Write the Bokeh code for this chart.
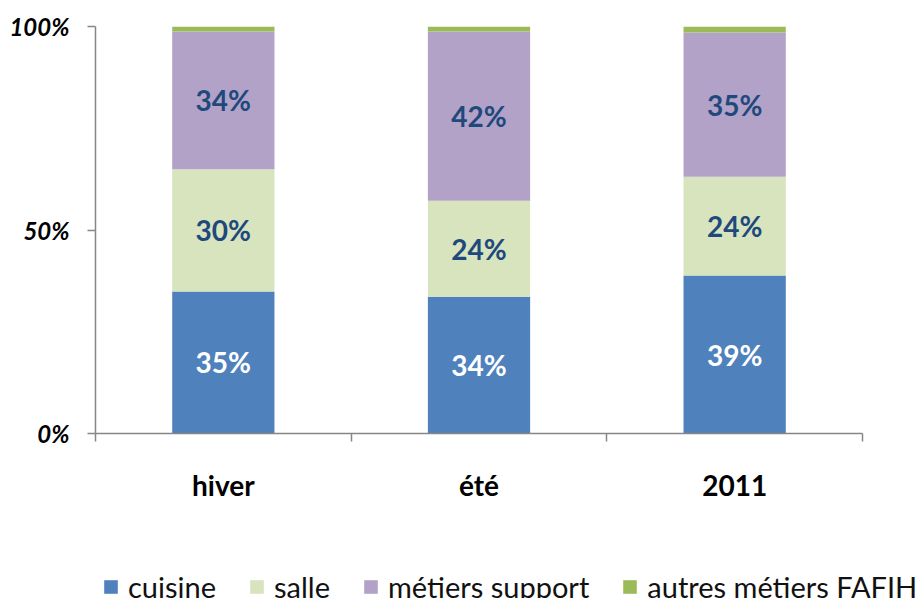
from bokeh.plotting import figure
from bokeh.models import FixedTicker, Range1d, Legend, LegendItem, ColumnDataSource
from bokeh.layouts import column
from bokeh.core.properties import value
from bokeh.embed import file_html
from bokeh.resources import INLINE

categories = ["hiver", "été", "2011"]
series = ["cuisine", "salle", "métiers support", "autres métiers FAFIH"]
cuisine = [34.9, 33.6, 38.8]
salle = [30.0, 23.6, 24.3]
support = [33.9, 41.6, 35.4]
autres = [1.2, 1.2, 1.5]
colors = ["#4F81BD", "#D7E4BD", "#B3A2C7", "#9BBB59"]
label_colors = ["white", "#1F497D", "#1F497D"]
y_ticks = [0, 50, 100]
y_tick_labels = ["0%", "50%", "100%"]

FONT = "Lato"

p = figure(width=919, height=540, output_backend="svg", toolbar_location=None,
           x_range=Range1d(0, len(categories)), y_range=Range1d(0, 100),
           min_border_left=95, min_border_right=57, min_border_top=26, min_border_bottom=107)
p.outline_line_color = None
p.grid.grid_line_color = None
p.frame_align = False

xs = [i + 0.5 for i in range(len(categories))]
data = {"x": xs, "cuisine": cuisine, "salle": salle, "métiers support": support,
        "autres métiers FAFIH": autres}
src = ColumnDataSource(data)
p.vbar_stack(series, x="x", width=0.4, source=src, color=colors, line_color=None)

# data labels
vals = [cuisine, salle, support]
for k, ser in enumerate(vals):
    ys, txt = [], []
    for i in range(len(categories)):
        base = sum(vals[j][i] for j in range(k))
        ys.append(base + ser[i] / 2)
        txt.append(f"{round(ser[i])}%")
    p.text(x=xs, y=ys, text=txt, text_color=label_colors[k], text_font=value(FONT),
           text_font_style="bold", text_font_size="28px", text_align="center",
           text_baseline="middle")

# x axis
xa = p.xaxis[0]
xa.ticker = FixedTicker(ticks=xs, minor_ticks=list(range(len(categories) + 1)))
xa.major_label_overrides = {x: c for x, c in zip(xs, categories)}
xa.major_tick_line_color = None
xa.minor_tick_line_color = "#868686"
xa.minor_tick_line_width = 1.5
xa.minor_tick_in = 0
xa.minor_tick_out = 8
xa.axis_line_color = "#868686"
xa.axis_line_width = 1.5
xa.major_label_standoff = 26
xa.major_label_text_font = FONT
xa.major_label_text_font_style = "bold"
xa.major_label_text_font_size = "28px"
xa.major_label_text_color = "black"

ya = p.yaxis[0]
ya.ticker = FixedTicker(ticks=y_ticks, minor_ticks=[])
ya.major_label_overrides = {t: l for t, l in zip(y_ticks, y_tick_labels)}
ya.major_tick_in = 0
ya.major_tick_out = 8
ya.major_tick_line_color = "#868686"
ya.major_tick_line_width = 1.5
ya.axis_line_color = "#868686"
ya.axis_line_width = 1.5
ya.major_label_standoff = 18
ya.major_label_text_font = FONT
ya.major_label_text_font_style = "bold italic"
ya.major_label_text_font_size = "24px"
ya.major_label_text_color = "black"

# legend strip
lg = figure(width=919, height=58, output_backend="svg", toolbar_location=None,
            x_range=Range1d(0, 1), y_range=Range1d(0, 1),
            x_axis_location=None, y_axis_location=None,
            min_border_left=0, min_border_right=0, min_border_top=0, min_border_bottom=0)
lg.grid.grid_line_color = None
lg.outline_line_color = None
lg.frame_align = False
items = []
for s, c in zip(series, colors):
    # off-range placeholder renderer: only its swatch is shown in the legend
    r = lg.vbar(x=[2], top=[0], width=0.1, color=c, line_color=None)
    items.append(LegendItem(label=s, renderers=[r]))
legend = Legend(items=items, orientation="horizontal", location=(102, -6),
                glyph_width=17, glyph_height=17, label_standoff=9, spacing=32,
                padding=0, margin=0, border_line_color=None, background_fill_alpha=0,
                label_text_font=FONT, label_text_font_size="29px",
                label_text_color="#111111")
lg.add_layout(legend, "center")

open("out.html", "w").write(file_html(column(p, lg, spacing=0), INLINE))
